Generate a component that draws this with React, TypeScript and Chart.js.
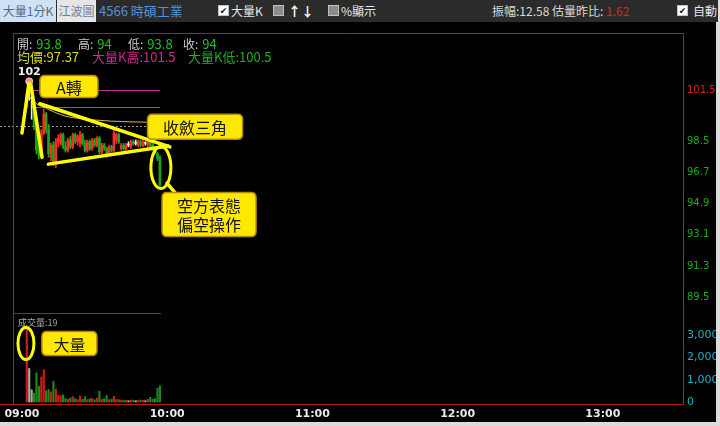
import React, { useEffect, useRef } from 'react';
import { Chart, registerables } from 'chart.js';

Chart.register(...registerables);

// ---------------- data ----------------
const barMinutes = [2,3,4,5,6,7,8,9,10,11,12,13,14,15,16,17,18,19,20,21,22,23,24,25,26,27,28,29,30,31,32,33,34,35,36,37,38,39,40,41,42,43,44,45,46,47,48,49,50,51,52,53,54,55,56,57];
const opens = [100.5,101.3,101.0,100.6,99.4,98.0,97.7,99.0,100.1,99.2,97.6,98.3,97.3,98.5,98.4,98.9,98.2,98.0,98.6,98.2,98.9,98.5,98.4,98.9,98.4,98.0,98.5,98.1,98.6,98.3,98.7,97.9,98.3,98.1,97.8,98.2,98.0,98.6,98.9,98.1,98.3,98.1,98.3,98.2,98.5,98.4,98.3,98.5,98.3,98.4,98.3,98.6,98.3,98.1,97.8,97.6];
const highs = [101.5,102.0,101.2,100.8,99.5,98.3,99.2,100.4,100.2,99.5,98.4,98.5,98.7,98.9,99.0,99.0,98.5,98.7,98.8,99.0,99.0,98.9,99.1,99.0,98.6,98.6,98.6,98.7,98.7,98.8,98.8,98.4,98.4,98.2,98.3,98.3,99.2,99.0,99.0,98.4,98.4,98.4,98.5,98.6,98.6,98.6,98.6,98.6,98.6,98.5,98.7,98.7,98.4,98.2,97.9,97.7];
const lows = [100.5,100.9,99.8,99.2,97.8,97.5,97.6,98.9,99.0,97.6,97.4,97.1,97.0,98.2,98.3,98.1,97.9,97.9,98.1,98.1,98.4,98.3,98.2,98.3,97.9,97.9,98.0,98.0,98.2,98.2,97.8,97.8,98.0,97.6,97.7,97.9,97.9,98.4,98.4,98.0,98.0,98.0,98.2,98.1,98.3,98.3,98.2,98.2,98.2,98.3,98.2,98.2,98.0,97.8,97.4,95.8];
const closes = [101.3,101.3,101.0,99.4,98.0,97.7,99.0,100.1,99.2,97.8,98.3,97.3,98.5,98.7,98.9,98.2,98.0,98.6,98.2,98.9,98.5,98.8,98.9,98.4,98.0,98.5,98.1,98.6,98.3,98.7,97.9,98.3,98.1,97.8,98.2,98.0,99.0,98.9,98.5,98.3,98.1,98.3,98.3,98.5,98.4,98.4,98.5,98.3,98.5,98.4,98.6,98.3,98.1,97.9,97.5,96.0];
const volumes = [3350,1500,550,400,1300,700,1120,1450,500,560,450,920,580,300,280,320,150,120,180,240,150,100,270,120,240,110,140,160,100,180,480,120,150,290,100,130,250,120,100,90,70,80,60,90,80,60,70,90,80,60,120,210,120,150,620,720];
const avgPrices = [101.0,101.1,100.95,100.85,100.7,100.62,100.56,100.5,100.45,100.36,100.3,100.24,100.18,100.12,100.07,100.02,99.98,99.95,99.92,99.9,99.88,99.86,99.84,99.82,99.8,99.79,99.78,99.77,99.76,99.75,99.74,99.73,99.72,99.71,99.7,99.69,99.69,99.68,99.68,99.67,99.67,99.66,99.66,99.65,99.65,99.65,99.64,99.64,99.64,99.63,99.63,99.63,99.62,99.62,99.6,99.55];

const hourTicks = [0, 60, 120, 180, 240];
const hourLabels = ['09:00', '10:00', '11:00', '12:00', '13:00'];
const priceTicks = [89.5, 91.3, 93.1, 94.9, 96.7, 98.5, 101.5];
const highlightPriceTick = 101.5;
const volumeTicks = [0, 1000, 2000, 3000];
const volumeTickLabels = ['0', '1,000', '2,000', '3,000'];

const dayHigh = 102;
const dayHighMinute = 3;
const bigKHigh = 101.5;
const bigKLow = 100.5;
const prevClose = 99.4;
const prevCloseEndMinute = 52;
const volumePanelTop = 4000;

const infoLabels = ['開:', '高:', '低:', '收:'];
const infoValues = ['93.8', '94', '93.8', '94'];
const avgText = '均價:97.37';
const bigKHighText = '大量K高:101.5';
const bigKLowText = '大量K低:100.5';
const volumeText = '成交量:19';
const stockTitle = '4566 時碩工業';
const amplitude = '12.58';
const volumeRatio = '1.62';

// annotations (anchored in data units)
const noteBoxes = [
  { lines: ['A轉'], minute: 19.4, value: 101.7, axis: 'y' },
  { lines: ['收斂三角'], minute: 71.5, value: 99.36, axis: 'y' },
  { lines: ['空方表態', '偏空操作'], minute: 77.3, value: 94.28, axis: 'y' },
  { lines: ['大量'], minute: 19.6, value: 2620, axis: 'y1' },
];
const noteBoxSizes = [[58, 22], [95, 25], [94, 44], [55, 24]];
const noteLines = [
  { axis: 'y', a: [0, 99.0], b: [2.9, 101.9] },
  { axis: 'y', a: [3.7, 101.8], b: [8.3, 97.6] },
  { axis: 'y', a: [7.4, 100.7], b: [61.1, 98.2] },
  { axis: 'y', a: [10.9, 97.2], b: [60.4, 98.25] },
  { axis: 'y', a: [59.9, 96.1], b: [65.3, 95.2] },
];
const noteEllipses = [
  { minute: 57.4, value: 97.0, axis: 'y', rx: 10, ry: 21 },
  { minute: 1.65, value: 2620, axis: 'y1', rx: 8, ry: 16 },
];

// ---------------- styles ----------------
const UP = '#ff2a2a';
const DOWN = '#1aa81a';
const FLAT = '#e6e6e6';
const VUP = '#d41818';
const VDOWN = '#168e16';
const VFLAT = '#a8a8a8';
const BORDER = '#c01818';
const CJK = '"Noto Sans CJK TC", "Noto Sans CJK SC", sans-serif';
const NUM = '"DejaVu Sans", Verdana, sans-serif';

const candleColor = (i: number) => (closes[i] > opens[i] ? UP : closes[i] < opens[i] ? DOWN : FLAT);
const volColor = (i: number) => (closes[i] > opens[i] ? VUP : closes[i] < opens[i] ? VDOWN : VFLAT);

function roundRect(ctx: CanvasRenderingContext2D, x: number, y: number, w: number, h: number, r: number) {
  ctx.beginPath();
  ctx.moveTo(x + r, y);
  ctx.lineTo(x + w - r, y);
  ctx.quadraticCurveTo(x + w, y, x + w, y + r);
  ctx.lineTo(x + w, y + h - r);
  ctx.quadraticCurveTo(x + w, y + h, x + w - r, y + h);
  ctx.lineTo(x + r, y + h);
  ctx.quadraticCurveTo(x, y + h, x, y + h - r);
  ctx.lineTo(x, y + r);
  ctx.quadraticCurveTo(x, y, x + r, y);
  ctx.closePath();
}

const overlay = {
  id: 'overlay',
  beforeDatasetsDraw(chart: any) {
    const { ctx, scales } = chart;
    const sx = scales.x, sy = scales.y;
    ctx.save();
    const pc = Math.round(sy.getPixelForValue(prevClose)) + 0.5;
    ctx.strokeStyle = '#a0a0a0';
    ctx.lineWidth = 1;
    ctx.setLineDash([2, 2]);
    ctx.beginPath();
    ctx.moveTo(0, pc);
    ctx.lineTo(sx.getPixelForValue(prevCloseEndMinute), pc);
    ctx.stroke();
    ctx.setLineDash([]);
    const xa = sx.getPixelForValue(barMinutes[2]);
    const xb = sx.getPixelForValue(barMinutes[barMinutes.length - 1]);
    const hy = Math.round(sy.getPixelForValue(bigKHigh)) + 0.5;
    const ly = Math.round(sy.getPixelForValue(bigKLow)) + 0.5;
    ctx.strokeStyle = '#c0309e';
    ctx.beginPath(); ctx.moveTo(xa, hy); ctx.lineTo(xb, hy); ctx.stroke();
    ctx.strokeStyle = '#18a818';
    ctx.beginPath(); ctx.moveTo(xa, ly); ctx.lineTo(xb, ly); ctx.stroke();
    ctx.restore();
  },
  afterDatasetsDraw(chart: any) {
    const { ctx, chartArea: a, scales } = chart;
    const sx = scales.x, sy = scales.y, sv = scales.y1;
    ctx.save();
    ctx.strokeStyle = BORDER;
    ctx.lineWidth = 1;
    const L = Math.round(a.left) + 0.5, R = Math.round(a.right) + 0.5;
    const T = Math.round(a.top) + 0.5, B = Math.round(a.bottom) + 0.5;
    ctx.beginPath();
    ctx.moveTo(L, T); ctx.lineTo(R, T); ctx.lineTo(R, B); ctx.lineTo(0, B);
    ctx.moveTo(L, T); ctx.lineTo(L, B);
    ctx.stroke();
    const sep = Math.round(sv.getPixelForValue(volumePanelTop)) + 0.5;
    ctx.beginPath();
    ctx.moveTo(L, sep);
    ctx.lineTo(sx.getPixelForValue(barMinutes[barMinutes.length - 1]) + 1, sep);
    ctx.stroke();

    ctx.textBaseline = 'middle';
    ctx.textAlign = 'left';
    const r1 = a.top + 11, r2 = a.top + 24;
    const starts = [4, 65, 115, 170];
    infoLabels.forEach((lab, i) => {
      const x0 = a.left + starts[i];
      ctx.font = '12px ' + CJK;
      ctx.fillStyle = '#c8c8c8';
      ctx.fillText(lab, x0, r1);
      const w = ctx.measureText(lab).width;
      ctx.font = '13px ' + CJK;
      ctx.fillStyle = '#22c022';
      ctx.fillText(infoValues[i], x0 + w + 4, r1);
    });
    ctx.font = '13px ' + CJK;
    ctx.fillStyle = '#d8d820';
    ctx.fillText(avgText, a.left + 4, r2);
    ctx.fillStyle = '#d02a8c';
    ctx.fillText(bigKHighText, a.left + 79, r2);
    ctx.fillStyle = '#20b020';
    ctx.fillText(bigKLowText, a.left + 175, r2);

    const hx = sx.getPixelForValue(dayHighMinute);
    const hy = sy.getPixelForValue(dayHigh);
    ctx.fillStyle = '#ff8a8a';
    ctx.strokeStyle = '#ffc8c8';
    ctx.beginPath(); ctx.arc(hx, hy, 3.5, 0, Math.PI * 2); ctx.fill(); ctx.stroke();
    ctx.fillStyle = '#f0f0f0';
    ctx.font = 'bold 11px ' + NUM;
    ctx.textAlign = 'center';
    ctx.textBaseline = 'alphabetic';
    ctx.fillText(String(dayHigh), hx, hy - 6);

    ctx.textAlign = 'left';
    ctx.textBaseline = 'middle';
    ctx.font = '9px ' + CJK;
    ctx.fillStyle = '#a8a8a8';
    ctx.fillText(volumeText, a.left + 5, sep + 9);

    ctx.font = '11px ' + NUM;
    ctx.fillStyle = '#1fb4c4';
    volumeTicks.forEach((v, i) => {
      ctx.fillText(volumeTickLabels[i], a.right + 4, sv.getPixelForValue(v));
    });

    ctx.strokeStyle = '#ffff00';
    ctx.lineCap = 'round';
    ctx.lineWidth = 3.5;
    noteLines.forEach((n) => {
      const s = scales[n.axis];
      ctx.beginPath();
      ctx.moveTo(sx.getPixelForValue(n.a[0]), s.getPixelForValue(n.a[1]));
      ctx.lineTo(sx.getPixelForValue(n.b[0]), s.getPixelForValue(n.b[1]));
      ctx.stroke();
    });
    ctx.lineWidth = 3;
    noteEllipses.forEach((e) => {
      const s = scales[e.axis];
      ctx.beginPath();
      ctx.ellipse(sx.getPixelForValue(e.minute), s.getPixelForValue(e.value), e.rx, e.ry, 0, 0, Math.PI * 2);
      ctx.stroke();
    });
    noteBoxes.forEach((b, i) => {
      const s = scales[b.axis];
      const [w, h] = noteBoxSizes[i];
      const cx = sx.getPixelForValue(b.minute);
      const cy = s.getPixelForValue(b.value);
      roundRect(ctx, cx - w / 2, cy - h / 2, w, h, 5);
      ctx.fillStyle = '#ffe800';
      ctx.fill();
      ctx.lineWidth = 1.5;
      ctx.strokeStyle = '#b88c00';
      ctx.stroke();
      ctx.fillStyle = '#111111';
      ctx.font = '16px ' + CJK;
      ctx.textAlign = 'center';
      ctx.textBaseline = 'middle';
      const lh = 19;
      b.lines.forEach((t, k) => {
        ctx.fillText(t, cx, cy + (k - (b.lines.length - 1) / 2) * lh + 1);
      });
    });
    ctx.restore();
  },
};

function Check({ left, checked }: { left: number; checked: boolean }) {
  return (
    <span
      style={{
        position: 'absolute', left, top: 5, width: 11, height: 11, boxSizing: 'border-box',
        background: checked ? '#ffffff' : '#8c8c8c', border: '1px solid #c0c0c0',
        color: '#111', fontSize: 9, lineHeight: '10px', textAlign: 'center', fontFamily: NUM,
      }}
    >{checked ? '✔' : ''}</span>
  );
}

export default function App() {
  const ref = useRef<HTMLCanvasElement | null>(null);

  useEffect(() => {
    if (!ref.current) return;
    const n = barMinutes.length;
    const idx = Array.from({ length: n }, (_, i) => i);
    const chart = new Chart(ref.current, {
      type: 'bar',
      data: {
        datasets: [
          {
            type: 'bar',
            data: idx.map((i) => ({ x: barMinutes[i], y: [lows[i], highs[i]] })) as any,
            backgroundColor: idx.map(candleColor),
            barThickness: 1,
            grouped: false,
            yAxisID: 'y',
            order: 3,
          } as any,
          {
            type: 'bar',
            data: idx.map((i) => ({ x: barMinutes[i], y: [opens[i], closes[i]] })) as any,
            backgroundColor: idx.map(candleColor),
            barThickness: 2,
            minBarLength: 1,
            grouped: false,
            yAxisID: 'y',
            order: 2,
          } as any,
          {
            type: 'bar',
            data: idx.map((i) => ({ x: barMinutes[i], y: volumes[i] })) as any,
            backgroundColor: idx.map(volColor),
            barThickness: 1.5,
            grouped: false,
            yAxisID: 'y1',
            order: 4,
          } as any,
          {
            type: 'line',
            data: idx.map((i) => ({ x: barMinutes[i], y: avgPrices[i] })) as any,
            borderColor: '#d6c25a',
            borderWidth: 1,
            pointRadius: 0,
            tension: 0,
            yAxisID: 'y',
            order: 1,
          } as any,
        ],
      },
      options: {
        responsive: false,
        animation: false,
        devicePixelRatio: 1,
        layout: { padding: { left: 13, top: 11, right: 0, bottom: 0 } },
        plugins: { legend: { display: false }, tooltip: { enabled: false }, title: { display: false } },
        scales: {
          x: {
            type: 'linear',
            min: -3.7,
            max: 273.1,
            offset: false,
            grid: { display: false, drawTicks: false },
            border: { display: false },
            afterBuildTicks: (s: any) => { s.ticks = hourTicks.map((v) => ({ value: v })); },
            afterFit: (s: any) => { s.height = 18; },
            ticks: {
              autoSkip: false,
              maxRotation: 0,
              padding: 4,
              color: '#e8e8e8',
              font: { family: NUM, size: 11, weight: 'bold' },
              callback: (v: any) => { const k = hourTicks.indexOf(Number(v)); return k >= 0 ? hourLabels[k] : ''; },
            },
          },
          y: {
            type: 'linear',
            position: 'right',
            min: 83.3,
            max: 104.8,
            grid: { display: false, drawTicks: false },
            border: { display: false },
            afterBuildTicks: (s: any) => { s.ticks = priceTicks.map((v) => ({ value: v })); },
            afterFit: (s: any) => { s.width = 33; },
            ticks: {
              padding: 4,
              font: { family: NUM, size: 10 },
              color: (c: any) => (c.tick && c.tick.value === highlightPriceTick ? '#e02020' : '#1faa1f'),
              callback: (v: any) => Number(v).toFixed(1),
            },
          },
          y1: {
            type: 'linear',
            position: 'right',
            display: false,
            min: -90,
            max: 16525,
          },
        },
      } as any,
      plugins: [overlay],
    });
    return () => chart.destroy();
  }, []);

  const bar: React.CSSProperties = { position: 'absolute', top: 0, height: 22, lineHeight: '22px', whiteSpace: 'nowrap' };

  return (
    <div style={{ position: 'fixed', left: 0, top: 0, width: 720, height: 426, background: '#dcdcdc', overflow: 'hidden', fontFamily: CJK }}>
      <div style={{ position: 'absolute', left: 0, top: 0, width: 718, height: 22, background: '#2b2b2b', fontSize: 12 }}>
        <span style={{ ...bar, left: 0, width: 56, background: '#cfe2f5', color: '#4f6a8c', textAlign: 'center' }}>大量1分K</span>
        <span style={{ ...bar, left: 57, width: 39, background: '#e6e6e6', color: '#6a819e', textAlign: 'center' }}>江波圖</span>
        <span style={{ ...bar, left: 99, color: '#4f92d6', fontSize: 13 }}>{stockTitle}</span>
        <Check left={218} checked={true} />
        <span style={{ ...bar, left: 231, color: '#e8e8e8' }}>大量K</span>
        <Check left={273} checked={false} />
        <span style={{ ...bar, left: 288, color: '#ffffff', fontWeight: 'bold', fontSize: 13 }}>↑↓</span>
        <Check left={328} checked={false} />
        <span style={{ ...bar, left: 341, color: '#e8e8e8' }}>%顯示</span>
        <span style={{ ...bar, left: 492, color: '#d8d8d8' }}>振幅:{amplitude} 估量昨比: <span style={{ color: '#e02020' }}>{volumeRatio}</span></span>
        <Check left={677} checked={true} />
        <span style={{ ...bar, left: 693, color: '#e8e8e8' }}>自動</span>
      </div>
      <canvas
        ref={ref}
        width={716}
        height={400}
        style={{ position: 'absolute', left: 0, top: 22, width: 716, height: 400, background: '#000000' }}
      />
    </div>
  );
}
